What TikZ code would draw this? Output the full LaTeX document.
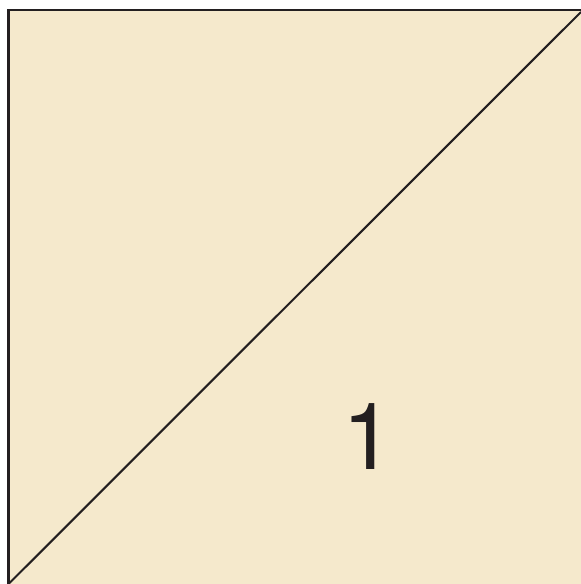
\documentclass[tikz,border=0pt]{standalone}
\usepackage{fontspec}
\setmainfont{TeX Gyre Heros}
\definecolor{patch}{HTML}{F5E9CC}
\definecolor{edge}{HTML}{231F20}
\begin{document}
\begin{tikzpicture}[x=1pt,y=1pt,every node/.style={inner sep=0pt}]
\useasboundingbox (0,0) rectangle (581,584);
\coordinate (bl) at (8.5,0);\coordinate (tl) at (8.5,574);\coordinate (tr) at (581,574);\coordinate (dr) at (581,572);
\fill[patch] (bl) rectangle (tr);
\draw[edge,line width=2.6pt] (bl)--(tl)--(tr);
\draw[edge,line width=2.1pt] (bl)--(dr);
\node[text=edge] (n1) at (368,147) {\fontsize{93}{93}\selectfont 1};
\end{tikzpicture}
\end{document}
